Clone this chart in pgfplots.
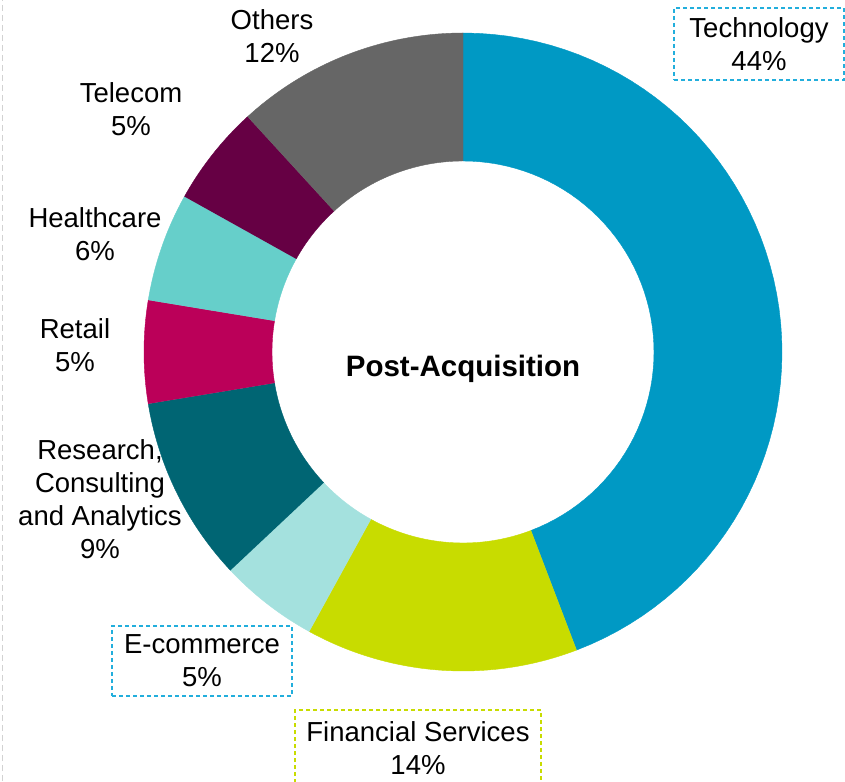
\documentclass[border=0pt]{standalone}
\usepackage{pgfplots}
\pgfplotsset{compat=1.18}
\usepackage{fontspec}
\setmainfont{Liberation Sans}
\definecolor{ctech}{HTML}{0099C4}
\definecolor{cfin}{HTML}{C8DC00}
\definecolor{cecom}{HTML}{A4E1DE}
\definecolor{cres}{HTML}{006573}
\definecolor{cret}{HTML}{BB0059}
\definecolor{cheal}{HTML}{66CFCA}
\definecolor{ctel}{HTML}{660044}
\definecolor{coth}{HTML}{666666}
\definecolor{cbox}{HTML}{22AEDC}
\tikzset{lbl/.style={font=\fontsize{27.5}{33}\selectfont, align=center, inner sep=0pt}}
% #1 = cumulative start (%), #2 = share (%), #3 = colour
\newcommand{\slice}[3]{%
  \addplot[fill=#3, draw=#3, line width=0.4pt, domain=0:121, samples=122]
  ({463+(x<60.5?319:191)*cos(90-3.6*(x<60.5?(#1+#2*x/60):(#1+#2-#2*(x-61)/60)))},
   {429+(x<60.5?319:191)*sin(90-3.6*(x<60.5?(#1+#2*x/60):(#1+#2-#2*(x-61)/60)))});
}
\begin{document}
\begin{tikzpicture}
\begin{axis}[
  width=845pt, height=781pt, scale only axis,
  xmin=0, xmax=845, ymin=0, ymax=781,
  hide axis, clip=true,
]
\path (axis cs:0,0) rectangle (axis cs:845,781);
\slice{0}{44.2}{ctech}
\slice{44.2}{13.8}{cfin}
\slice{58.0}{5.0}{cecom}
\slice{63.0}{9.4}{cres}
\slice{72.4}{5.2}{cret}
\slice{77.6}{5.5}{cheal}
\slice{83.1}{5.1}{ctel}
\slice{88.2}{11.8}{coth}
\draw[gray!35, dash pattern=on 6pt off 4pt, line width=1pt] (axis cs:2,0) -- (axis cs:2,781);
\node[lbl, font=\fontsize{29.5}{35}\selectfont\bfseries] at (axis cs:463,412) {Post-Acquisition};
\node[lbl, draw=cbox, dash pattern=on 4pt off 3pt, line width=1.2pt, minimum width=170pt, minimum height=72pt] at (axis cs:759,737) {Technology\\44\%};
\node[lbl, draw=cbox, dash pattern=on 4pt off 3pt, line width=1.2pt, minimum width=180pt, minimum height=70pt] at (axis cs:202,120) {E-commerce\\5\%};
\draw[cfin, dash pattern=on 4pt off 3pt, line width=1.2pt] (axis cs:295,-30) rectangle (axis cs:541,71);
\node[lbl] at (axis cs:418,33) {Financial Services\\14\%};
\node[lbl] at (axis cs:272,745) {Others\\12\%};
\node[lbl] at (axis cs:131,672) {Telecom\\5\%};
\node[lbl] at (axis cs:95,547) {Healthcare\\6\%};
\node[lbl] at (axis cs:75,436) {Retail\\5\%};
\node[lbl] at (axis cs:100,282) {Research,\\Consulting\\and Analytics\\9\%};
\end{axis}
\end{tikzpicture}
\end{document}
